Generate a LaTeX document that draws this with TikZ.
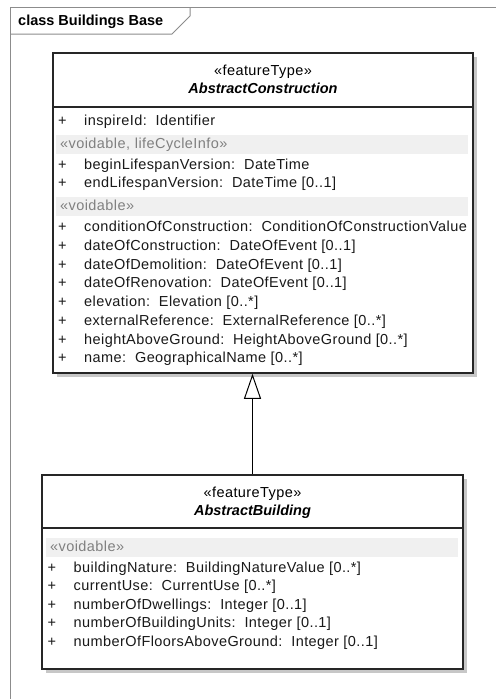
\documentclass[tikz,border=0pt]{standalone}
\usepackage{fontspec}
\setmainfont{Liberation Sans}[Scale=1.45,UprightFeatures={LetterSpace=2.9}]
\usetikzlibrary{arrows.meta}
\usetikzlibrary{shadows}

\newcommand{\pub}{\makebox[26pt][l]{+}}

\begin{document}
\begin{tikzpicture}[x=1pt,y=-1pt,
  frameline/.style={draw=black!45,line width=1pt},
  classbox/.style={draw=black!85,line width=1.5pt,fill=white,inner sep=0pt,
    drop shadow={shadow xshift=4pt,shadow yshift=-4pt,fill=black!22,opacity=1}},
  band/.style={anchor=north west,fill=black!6,text=black!50,text width=404pt,
    inner xsep=4pt,inner ysep=0pt,minimum height=19pt,text height=11pt,text depth=3pt},
  attr/.style={anchor=base west,inner sep=0pt,text=black!90},
  hdr/.style={anchor=base,inner sep=0pt}]
\useasboundingbox (0,0) rectangle (496,699);

% diagram frame
\draw[frameline] (10,699) -- (10,7) -- (496,7);
\draw[frameline] (10,34) -- (172,34) -- (190,16) -- (190,7);
\node[anchor=base west,inner sep=0pt,font=\bfseries] (title) at (18,25) {class Buildings Base};

% AbstractConstruction
\node[classbox,minimum width=420pt,minimum height=320pt] (AC) at (263,213) {};
\draw[draw=black!85,line width=1.5pt] (53,107) -- (473,107);
\node[hdr] (ACst) at (263,75) {«featureType»};
\node[hdr,font=\bfseries\itshape] (ACname) at (263,93) {AbstractConstruction};
\node[attr] (ACa1) at (58,125) {\pub inspireId:\ \ Identifier};
\node[band] (ACv1) at (56,135) {«voidable, lifeCycleInfo»};
\node[attr] (ACb1) at (58,169) {\pub beginLifespanVersion:\ \ DateTime};
\node[attr] (ACb2) at (58,187.5) {\pub endLifespanVersion:\ \ DateTime [0..1]};
\node[band] (ACv2) at (56,197) {«voidable»};
\node[attr] (ACc1) at (58,231) {\pub conditionOfConstruction:\ \ ConditionOfConstructionValue};
\node[attr] (ACc2) at (58,250) {\pub dateOfConstruction:\ \ DateOfEvent [0..1]};
\node[attr] (ACc3) at (58,269) {\pub dateOfDemolition:\ \ DateOfEvent [0..1]};
\node[attr] (ACc4) at (58,287.5) {\pub dateOfRenovation:\ \ DateOfEvent [0..1]};
\node[attr] (ACc5) at (58,306) {\pub elevation:\ \ Elevation [0..*]};
\node[attr] (ACc6) at (58,325) {\pub externalReference:\ \ ExternalReference [0..*]};
\node[attr] (ACc7) at (58,344) {\pub heightAboveGround:\ \ HeightAboveGround [0..*]};
\node[attr] (ACc8) at (58,362.5) {\pub name:\ \ GeographicalName [0..*]};

% AbstractBuilding
\node[classbox,minimum width=421pt,minimum height=194pt] (AB) at (252.5,572) {};
\draw[draw=black!85,line width=1.5pt] (42,528) -- (463,528);
\node[hdr] (ABst) at (252.5,497) {«featureType»};
\node[hdr,font=\bfseries\itshape] (ABname) at (252.5,515) {AbstractBuilding};
\node[band] (ABv1) at (46,538) {«voidable»};
\node[attr] (ABc1) at (47.5,572) {\pub buildingNature:\ \ BuildingNatureValue [0..*]};
\node[attr] (ABc2) at (47.5,590.5) {\pub currentUse:\ \ CurrentUse [0..*]};
\node[attr] (ABc3) at (47.5,609) {\pub numberOfDwellings:\ \ Integer [0..1]};
\node[attr] (ABc4) at (47.5,627.5) {\pub numberOfBuildingUnits:\ \ Integer [0..1]};
\node[attr] (ABc5) at (47.5,646) {\pub numberOfFloorsAboveGround:\ \ Integer [0..1]};

% generalization
\draw[-{Triangle[open,length=25pt,width=17pt]},line width=1pt] (AB.north) -- (AB.north |- AC.south);
\end{tikzpicture}
\end{document}
